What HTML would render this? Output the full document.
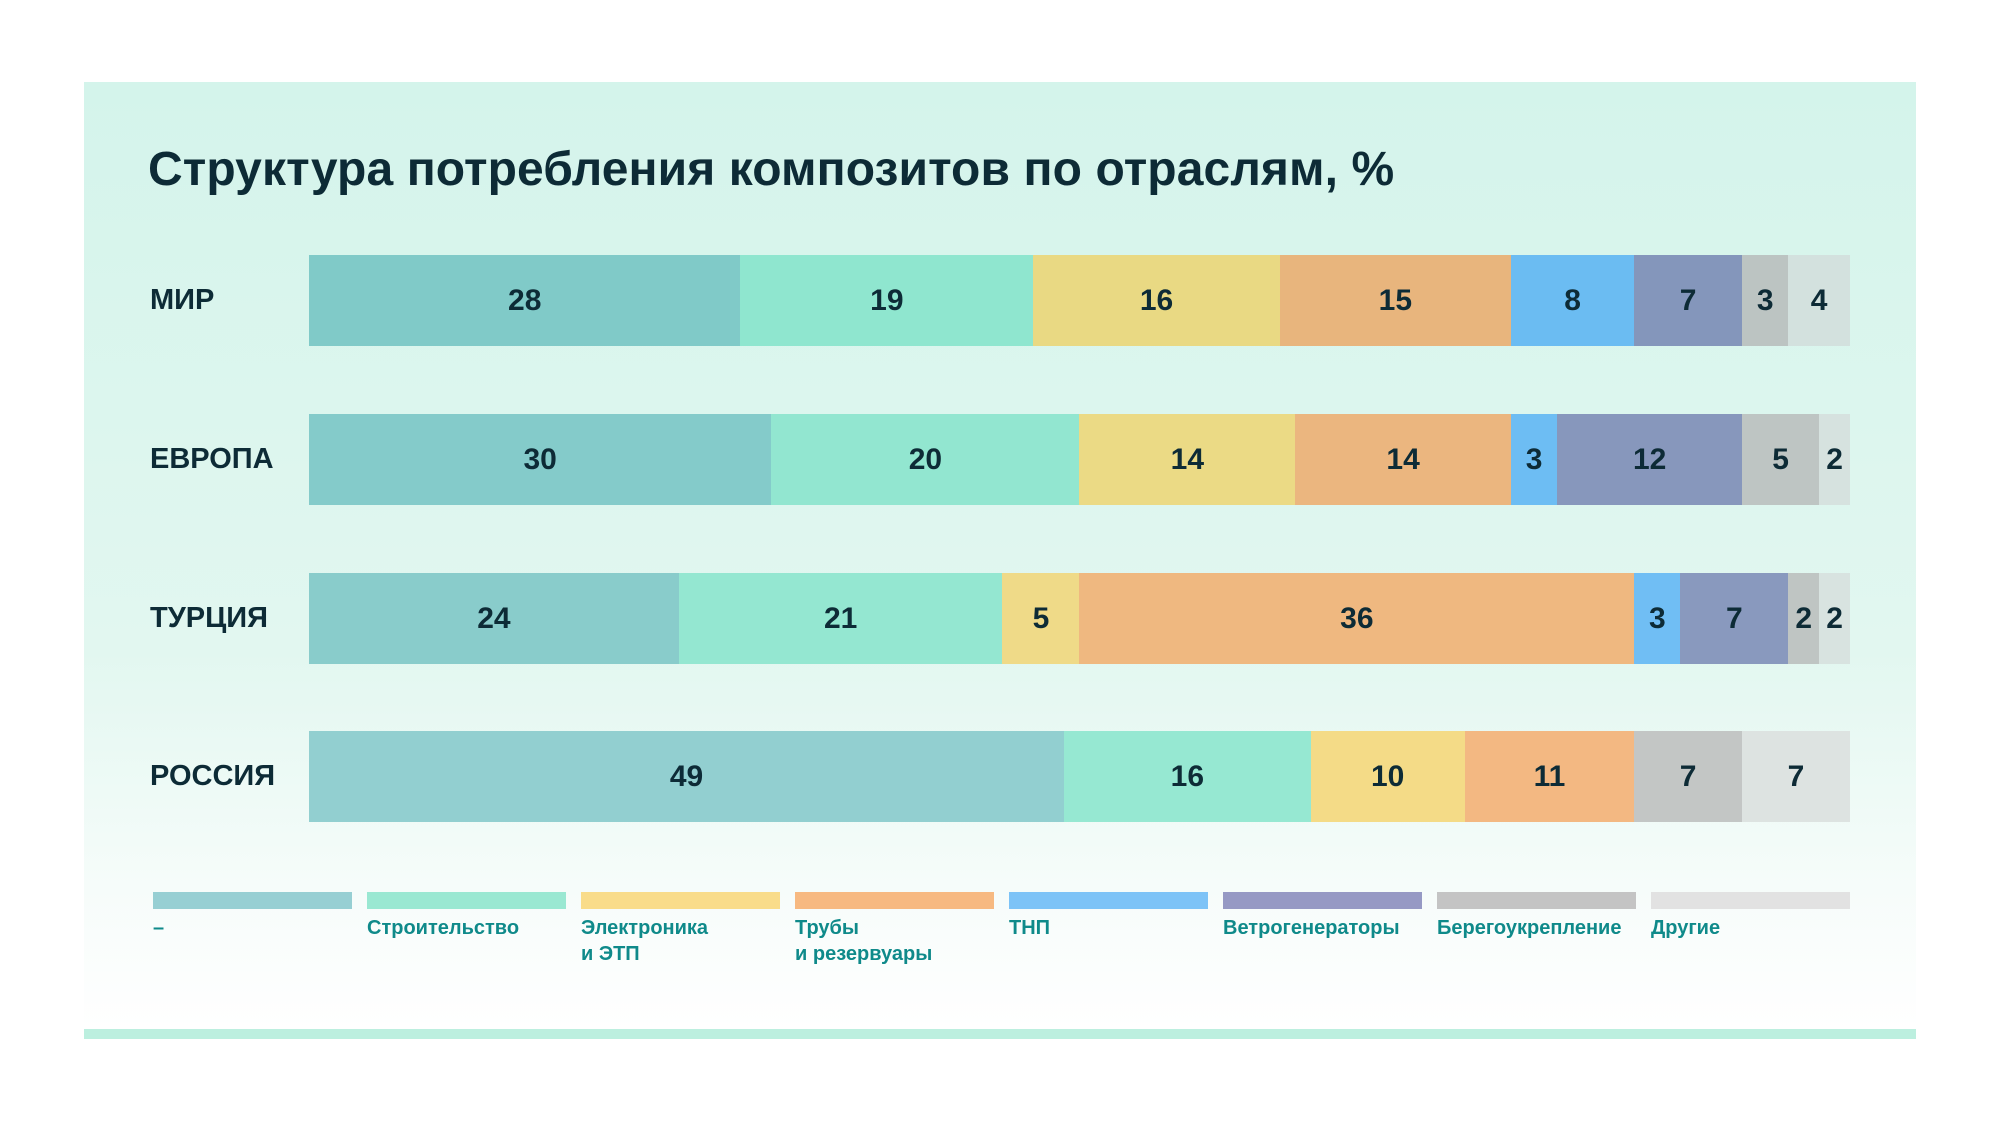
<!DOCTYPE html>
<html><head><meta charset="utf-8"><style>
*{margin:0;padding:0;box-sizing:border-box}
body{width:2000px;height:1125px;background:#fff;position:relative;overflow:hidden;font-family:"Liberation Sans","DejaVu Sans",sans-serif}
.panel{position:absolute;left:84px;top:82px;width:1832px;height:947px;background:linear-gradient(#d4f4eb 0%,#e2f7f0 60%,#f6fcfa 85%,#fff 100%)}
.stripe{position:absolute;left:84px;top:1029px;width:1832px;height:10px;background:#bcefdf}
.title{position:absolute;left:148px;top:142px;font-size:48px;font-weight:bold;color:#0d2b36;letter-spacing:0.1px}
.lbl{position:absolute;left:150px;font-size:29px;font-weight:bold;color:#0d2b36;height:91px;line-height:91px}
.bar{position:absolute;left:309px;width:1541px;height:91px;display:flex}
.bar div{height:100%;display:flex;align-items:center;justify-content:center;font-size:30px;font-weight:bold;color:#0d2b36}
.leg{position:absolute;top:892px;width:199px;height:17px}
.lt{position:absolute;top:915px;font-size:20px;font-weight:bold;color:#0f8a8a;line-height:26px}
</style></head><body>
<div class="panel"></div>
<div class="stripe"></div>
<div class="title">Структура потребления композитов по отраслям, %</div>

<div class="lbl" style="top:255px">МИР</div>
<div class="bar" style="top:255px">
<div style="width:28%;background:#80cac8">28</div><div style="width:19%;background:#8fe6cf">19</div><div style="width:16%;background:#e9d983">16</div><div style="width:15%;background:#e8b57d">15</div><div style="width:8%;background:#6bbcf2">8</div><div style="width:7%;background:#8496bb">7</div><div style="width:3%;background:#bcc4c2">3</div><div style="width:4%;background:#d3e1de">4</div>
</div>

<div class="lbl" style="top:414px">ЕВРОПА</div>
<div class="bar" style="top:414px">
<div style="width:30%;background:#84cbca">30</div><div style="width:20%;background:#92e6d0">20</div><div style="width:14%;background:#ebda85">14</div><div style="width:14%;background:#ebb67f">14</div><div style="width:3%;background:#6dbdf3">3</div><div style="width:12%;background:#8797bc">12</div><div style="width:5%;background:#bec5c3">5</div><div style="width:2%;background:#d6e2df">2</div>
</div>

<div class="lbl" style="top:573px">ТУРЦИЯ</div>
<div class="bar" style="top:573px">
<div style="width:24%;background:#89cccb">24</div><div style="width:21%;background:#94e7d1">21</div><div style="width:5%;background:#efda88">5</div><div style="width:36%;background:#efb880">36</div><div style="width:3%;background:#70bef4">3</div><div style="width:7%;background:#8999be">7</div><div style="width:2%;background:#bfc5c3">2</div><div style="width:2%;background:#d8e3e0">2</div>
</div>

<div class="lbl" style="top:731px">РОССИЯ</div>
<div class="bar" style="top:731px">
<div style="width:49%;background:#92cfd0">49</div><div style="width:16%;background:#96e8d2">16</div><div style="width:10%;background:#f4db87">10</div><div style="width:11%;background:#f3b882">11</div><div style="width:7%;background:#c3c6c5">7</div><div style="width:7%;background:#dde3e1">7</div>
</div>

<div class="leg" style="left:153px;background:#97cfd3"></div>
<div class="leg" style="left:367px;background:#9ae8d2"></div>
<div class="leg" style="left:581px;background:#f9dc8a"></div>
<div class="leg" style="left:795px;background:#f7b981"></div>
<div class="leg" style="left:1009px;background:#7dc3f7"></div>
<div class="leg" style="left:1223px;background:#9699c4"></div>
<div class="leg" style="left:1437px;background:#c4c4c4"></div>
<div class="leg" style="left:1651px;background:#e2e2e2"></div>

<div class="lt" style="left:153px">–</div>
<div class="lt" style="left:367px">Строительство</div>
<div class="lt" style="left:581px">Электроника<br>и ЭТП</div>
<div class="lt" style="left:795px">Трубы<br>и резервуары</div>
<div class="lt" style="left:1009px">ТНП</div>
<div class="lt" style="left:1223px">Ветрогенераторы</div>
<div class="lt" style="left:1437px">Берегоукрепление</div>
<div class="lt" style="left:1651px">Другие</div>
</body></html>
